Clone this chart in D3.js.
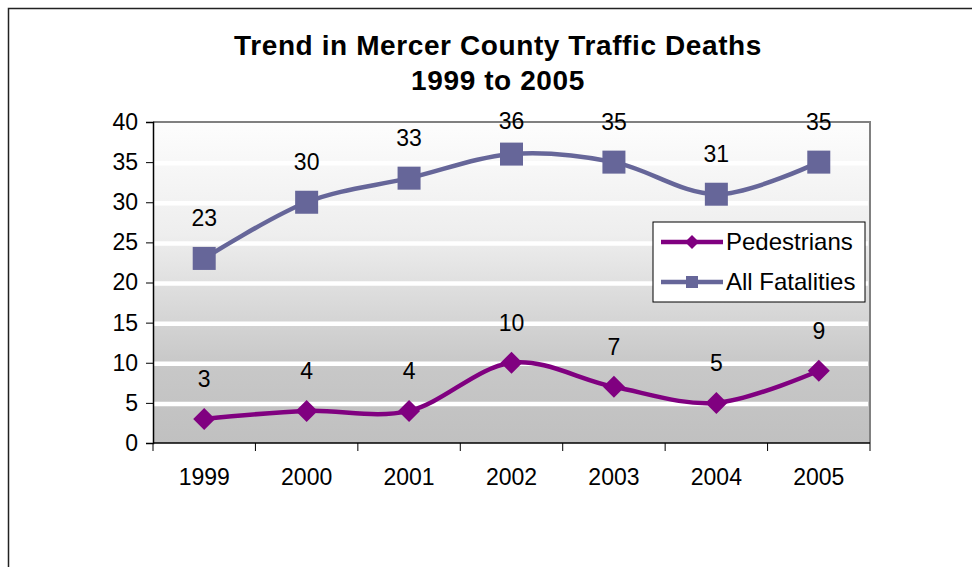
<!DOCTYPE html>
<meta charset="utf-8">
<style>
body { margin: 0; background: #fff; }
text { font-family: "Liberation Sans", Arial, sans-serif; fill: #000; }
</style>
<svg width="972" height="567"></svg>
<script src="https://d3js.org/d3.v7.min.js"></script>
<script>

var years = ["1999", "2000", "2001", "2002", "2003", "2004", "2005"];
var pedestrians = [3, 4, 4, 10, 7, 5, 9];
var allFatalities = [23, 30, 33, 36, 35, 31, 35];
var yTicks = [0, 5, 10, 15, 20, 25, 30, 35, 40];

var series = [
  {name: "Pedestrians", values: pedestrians, color: "#800080", marker: "diamond"},
  {name: "All Fatalities", values: allFatalities, color: "#666699", marker: "square"}
];

var svg = d3.select("svg");

var plot = {left: 153, right: 870, top: 122, bottom: 443};

var x = d3.scaleBand()
    .domain(years)
    .range([plot.left, plot.right]);

var y = d3.scaleLinear()
    .domain([0, 40])
    .range([plot.bottom, plot.top]);

// outer chart frame
svg.append("rect")
    .attr("x", 8.5).attr("y", 8.5)
    .attr("width", 1000).attr("height", 600)
    .attr("fill", "#fff")
    .attr("stroke", "#222")
    .attr("stroke-width", 1.5);

// gradient for plot area
var grad = svg.append("defs").append("linearGradient")
    .attr("id", "bg")
    .attr("x1", 0).attr("y1", 0).attr("x2", 0).attr("y2", 1);
grad.append("stop").attr("offset", "0%").attr("stop-color", "#fdfdfd");
grad.append("stop").attr("offset", "35%").attr("stop-color", "#eeeeee");
grad.append("stop").attr("offset", "75%").attr("stop-color", "#c8c8c8");
grad.append("stop").attr("offset", "100%").attr("stop-color", "#c0c0c0");

svg.append("rect")
    .attr("x", plot.left).attr("y", plot.top)
    .attr("width", plot.right - plot.left)
    .attr("height", plot.bottom - plot.top)
    .attr("fill", "url(#bg)");

// gridlines
svg.append("g")
  .selectAll("line")
  .data(yTicks.filter(function(d) { return d > 0 && d < 40; }))
  .enter().append("line")
    .attr("x1", plot.left).attr("x2", plot.right - 2)
    .attr("y1", function(d) { return y(d) + 1; })
    .attr("y2", function(d) { return y(d) + 1; })
    .attr("stroke", "#fff")
    .attr("stroke-width", 4.5);

// plot border top/right
svg.append("path")
    .attr("d", "M" + plot.left + "," + plot.top + "H" + plot.right + "V" + plot.bottom)
    .attr("fill", "none")
    .attr("stroke", "#808080")
    .attr("stroke-width", 2);

// y axis
var yAxis = svg.append("g")
    .attr("transform", "translate(" + plot.left + ",0)")
    .call(d3.axisLeft(y).tickValues(yTicks).tickSize(7).tickPadding(8));
yAxis.selectAll("text").style("font-size", "23px");

// x axis, ticks at category boundaries
var xAxis = svg.append("g")
    .attr("transform", "translate(0," + plot.bottom + ")")
    .call(d3.axisBottom(x).tickSize(0).tickPadding(26));
xAxis.selectAll("text").style("font-size", "23px");
xAxis.select(".domain").remove();
svg.append("line")
    .attr("x1", plot.left).attr("x2", plot.right)
    .attr("y1", plot.bottom).attr("y2", plot.bottom)
    .attr("stroke", "#000").attr("stroke-width", 1.5);
svg.append("g").selectAll("line")
  .data(years.concat(["end"]))
  .enter().append("line")
    .attr("x1", function(d, i) { return plot.left + i * x.bandwidth(); })
    .attr("x2", function(d, i) { return plot.left + i * x.bandwidth(); })
    .attr("y1", plot.bottom).attr("y2", plot.bottom + 8)
    .attr("stroke", "#000");

svg.selectAll(".domain").attr("stroke-width", 1.5);

var line = d3.line()
    .x(function(d, i) { return x(years[i]) + x.bandwidth() / 2; })
    .y(function(d) { return y(d); })
    .curve(d3.curveCardinal.tension(0));

function marker(g, type, size, color) {
  if (type === "diamond") {
    g.append("path")
        .attr("d", "M0," + (-size) + "L" + size + ",0L0," + size + "L" + (-size) + ",0Z")
        .attr("fill", color);
  } else {
    g.append("rect")
        .attr("x", -size).attr("y", -size)
        .attr("width", 2 * size).attr("height", 2 * size)
        .attr("fill", color);
  }
}

series.forEach(function(s) {
  svg.append("path")
      .attr("d", line(s.values))
      .attr("fill", "none")
      .attr("stroke", s.color)
      .attr("stroke-width", 4.5);

  s.values.forEach(function(v, i) {
    var g = svg.append("g")
        .attr("transform", "translate(" + (x(years[i]) + x.bandwidth() / 2) + "," + y(v) + ")");
    marker(g, s.marker, s.marker === "diamond" ? 11 : 11.5, s.color);
  });

  svg.append("g").selectAll("text")
    .data(s.values)
    .enter().append("text")
      .attr("x", function(d, i) { return x(years[i]) + x.bandwidth() / 2; })
      .attr("y", function(d) { return Math.max(y(d) - 40, 121); })
      .attr("dy", "0.35em")
      .attr("text-anchor", "middle")
      .style("font-size", "23px")
      .text(function(d) { return d; });
});

// title
var title = svg.append("text")
    .attr("x", 498)
    .attr("text-anchor", "middle")
    .style("font-size", "28px")
    .style("font-weight", "bold")
    .style("letter-spacing", "0.6px");
title.append("tspan").attr("x", 498).attr("y", 55).text("Trend in Mercer County Traffic Deaths");
title.append("tspan").attr("x", 498).attr("y", 90).text("1999 to 2005");

// legend
var legend = svg.append("g").attr("transform", "translate(653,222)");
legend.append("rect")
    .attr("width", 212).attr("height", 80)
    .attr("fill", "#fff")
    .attr("stroke", "#000")
    .attr("stroke-width", 1);

series.forEach(function(s, i) {
  var ly = 20 + i * 40;
  legend.append("line")
      .attr("x1", 8).attr("x2", 70)
      .attr("y1", ly).attr("y2", ly)
      .attr("stroke", s.color)
      .attr("stroke-width", 4.5);
  var g = legend.append("g").attr("transform", "translate(39," + ly + ")");
  marker(g, s.marker, s.marker === "diamond" ? 7 : 6, s.color);
  legend.append("text")
      .attr("x", 73).attr("y", ly)
      .attr("dy", "0.35em")
      .style("font-size", "24px")
      .text(s.name);
});

</script>
